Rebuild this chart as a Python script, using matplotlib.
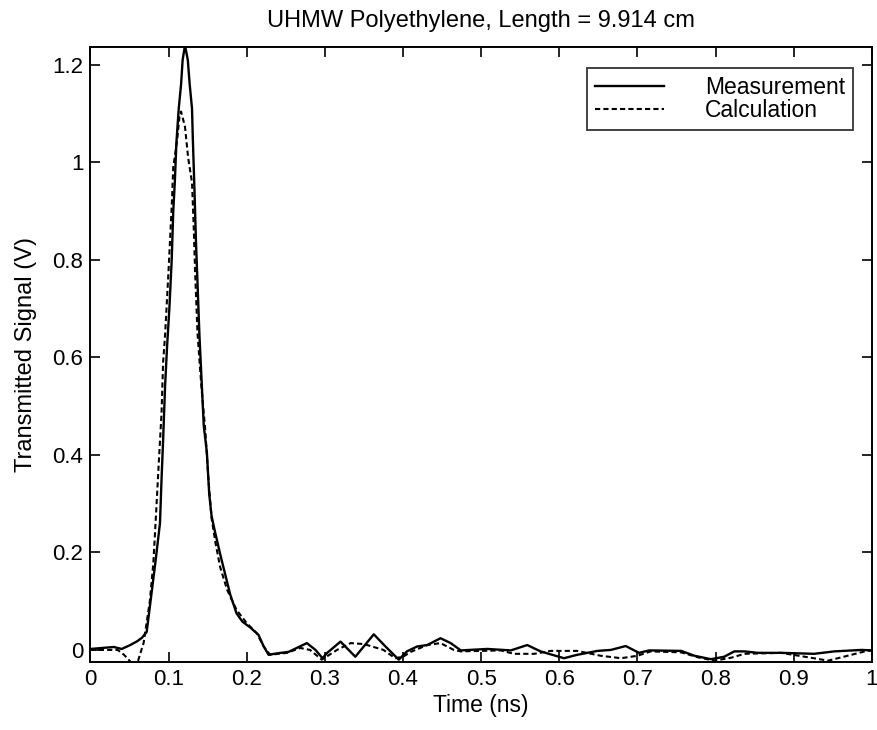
import numpy as np
import matplotlib
matplotlib.use('Agg')
import matplotlib.pyplot as plt

plt.rcParams['font.family'] = ['Liberation Sans', 'DejaVu Sans']
plt.rcParams['font.size'] = 16

# measured transmitted pulse (time in ns, signal in V)
t_meas = [0.000, 0.015, 0.030, 0.040, 0.051, 0.060, 0.066, 0.072, 0.076, 0.083,
          0.089, 0.091, 0.093, 0.0955, 0.098, 0.101, 0.104, 0.106, 0.108, 0.110,
          0.113, 0.116, 0.118, 0.121, 0.1246, 0.127, 0.130, 0.131, 0.133, 0.135,
          0.1395, 0.145, 0.149, 0.152, 0.155, 0.159, 0.167, 0.179, 0.187, 0.1945,
          0.2045, 0.215, 0.2215, 0.228, 0.239, 0.2536, 0.264, 0.277, 0.288, 0.297,
          0.303, 0.320, 0.339, 0.3626, 0.3776, 0.3946, 0.405, 0.418, 0.431, 0.448,
          0.461, 0.474, 0.508, 0.538, 0.559, 0.576, 0.606, 0.623, 0.649, 0.666,
          0.685, 0.702, 0.715, 0.756, 0.773, 0.794, 0.811, 0.824, 0.837, 0.854,
          0.884, 0.926, 0.952, 0.987, 1.000]
v_meas = [0.002, 0.004, 0.006, 0.002, 0.010, 0.018, 0.025, 0.037, 0.088, 0.178,
          0.260, 0.350, 0.430, 0.540, 0.620, 0.700, 0.800, 0.900, 0.960, 1.040,
          1.110, 1.160, 1.210, 1.240, 1.210, 1.160, 1.110, 1.050, 0.950, 0.840,
          0.645, 0.460, 0.405, 0.320, 0.275, 0.245, 0.190, 0.113, 0.075, 0.058,
          0.046, 0.031, 0.008, -0.010, -0.007, -0.004, 0.004, 0.014, 0.000, -0.017,
          -0.006, 0.017, -0.014, 0.032, 0.007, -0.020, -0.003, 0.007, 0.010, 0.024,
          0.014, -0.001, 0.002, -0.001, 0.010, -0.003, -0.017, -0.010, -0.002, 0.000,
          0.008, -0.006, -0.001, -0.002, -0.012, -0.019, -0.014, -0.003, -0.003, -0.006,
          -0.006, -0.008, -0.003, 0.000, -0.001]

# calculated pulse
t_calc = [0.000, 0.035, 0.043, 0.050, 0.056, 0.061, 0.068, 0.070, 0.076, 0.0805,
          0.084, 0.087, 0.091, 0.093, 0.0955, 0.0998, 0.104, 0.106, 0.111, 0.114,
          0.116, 0.121, 0.125, 0.130, 0.132, 0.134, 0.137, 0.142, 0.147, 0.151,
          0.155, 0.160, 0.166, 0.175, 0.187, 0.200, 0.213, 0.222, 0.230, 0.2515,
          0.2686, 0.281, 0.296, 0.3156, 0.333, 0.350, 0.375, 0.390, 0.400, 0.410,
          0.431, 0.448, 0.465, 0.474, 0.525, 0.542, 0.568, 0.589, 0.623, 0.653,
          0.679, 0.700, 0.717, 0.756, 0.777, 0.7985, 0.820, 0.837, 0.884, 0.918,
          0.944, 0.969, 0.991, 1.000]
v_calc = [0.000, 0.000, -0.010, -0.022, -0.035, -0.022, 0.014, 0.035, 0.100, 0.178,
          0.280, 0.370, 0.486, 0.590, 0.645, 0.773, 0.909, 0.990, 1.046, 1.095,
          1.104, 1.073, 1.010, 0.958, 0.876, 0.773, 0.650, 0.540, 0.450, 0.350,
          0.270, 0.220, 0.170, 0.123, 0.082, 0.055, 0.034, 0.006, -0.010, -0.006,
          0.004, 0.000, -0.020, 0.000, 0.014, 0.012, 0.000, -0.017, -0.014, -0.004,
          0.010, 0.014, 0.000, -0.003, -0.001, -0.008, -0.008, -0.002, -0.002, -0.012,
          -0.017, -0.012, -0.003, -0.005, -0.015, -0.022, -0.016, -0.008, -0.006, -0.015,
          -0.022, -0.012, -0.003, -0.001]

fig = plt.figure(figsize=(8.78, 7.3), dpi=100)
ax = fig.add_axes([0.103, 0.093, 0.890, 0.843])

ax.plot(t_meas, v_meas, 'k-', lw=1.7, label='Measurement')
ax.plot(t_calc, v_calc, 'k--', lw=1.5, dashes=(2.5, 1.5), label='Calculation')

ax.set_xlim(0, 1)
ax.set_ylim(-0.025, 1.237)
xt = np.arange(0, 1.01, 0.1)
ax.set_xticks(xt)
ax.set_xticklabels(['0', '0.1', '0.2', '0.3', '0.4', '0.5', '0.6', '0.7', '0.8', '0.9', '1'])
yt = np.arange(0, 1.21, 0.2)
ax.set_yticks(yt)
ax.set_yticklabels(['0', '0.2', '0.4', '0.6', '0.8', '1', '1.2'])
ax.tick_params(direction='in', top=True, right=True, length=7, width=1.2, labelsize=16, pad=5)
for s in ax.spines.values():
    s.set_linewidth(1.4)

ax.set_xlabel('Time (ns)', fontsize=16.5, labelpad=3)
ax.set_ylabel('Transmitted Signal (V)', fontsize=17, labelpad=11)
ax.set_title('UHMW Polyethylene, Length = 9.914 cm', fontsize=17, pad=14)

leg = ax.legend(loc='upper right', bbox_to_anchor=(0.976, 0.966), fancybox=False,
                edgecolor='k', handlelength=3.0, handletextpad=1.8, borderpad=0.35,
                borderaxespad=0, labelspacing=0.0, fontsize=16.5)
leg.get_frame().set_linewidth(1.3)

plt.savefig('out.png', dpi=100)
